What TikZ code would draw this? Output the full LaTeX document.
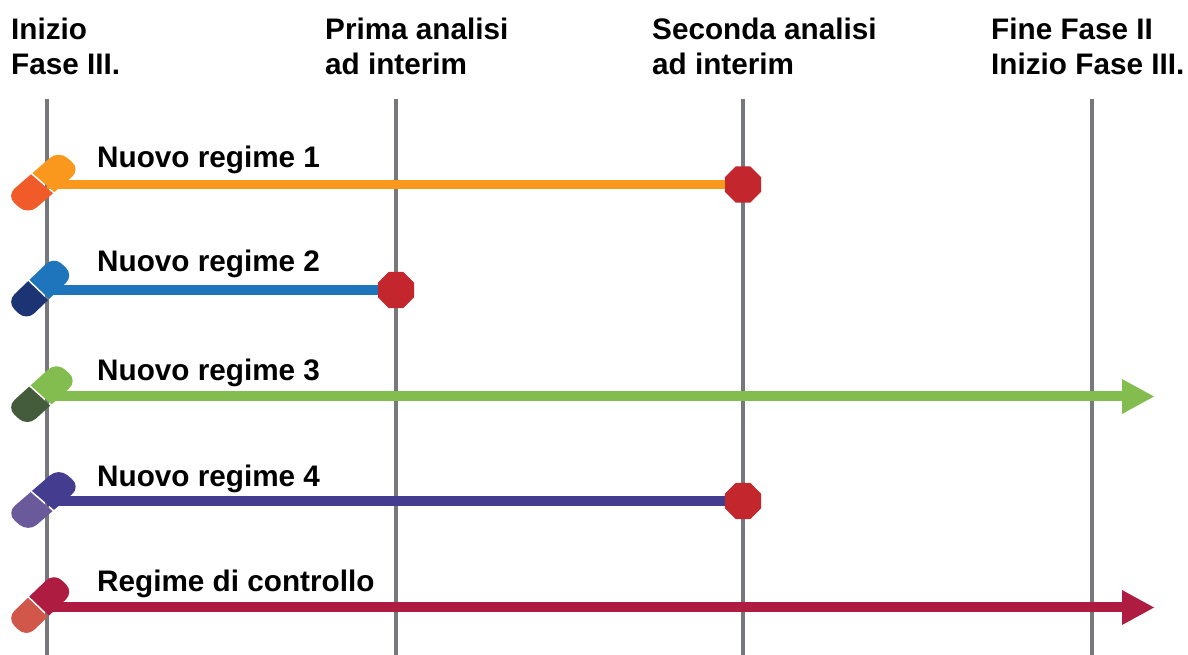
\documentclass[tikz,border=0pt]{standalone}
\usepackage{fontspec}
\setmainfont{Liberation Sans}
\usetikzlibrary{calc,shapes.geometric}
\tikzset{
  phaseline/.style={draw=linegray,line width=4.5pt},
  regline/.style={line width=9.5pt},
  lab/.style={font=\fontsize{29.7}{35.5}\selectfont\bfseries,anchor=north west,align=left,inner sep=0pt,text=black},
  reglab/.style={font=\fontsize{29.7}{30}\selectfont\bfseries,anchor=base west,inner sep=0pt,text=black},
  stopsign/.style={regular polygon,regular polygon sides=8,fill=stopred,draw=none,minimum size=39pt,inner sep=0pt,outer sep=0pt},
}
\definecolor{linegray}{HTML}{77787B}
\definecolor{stopred}{HTML}{C4262E}
\definecolor{oA}{HTML}{F9981D}\definecolor{oB}{HTML}{F15A29}
\definecolor{bA}{HTML}{1F75BC}\definecolor{bB}{HTML}{1C3473}
\definecolor{gA}{HTML}{84BD4F}\definecolor{gB}{HTML}{445C3C}
\definecolor{pA}{HTML}{443C8E}\definecolor{pB}{HTML}{6A5A9C}
\definecolor{rA}{HTML}{AF1C41}\definecolor{rB}{HTML}{D0574A}
% cx cy upper lower upperlen lowerlen xscale
\newcommand{\pill}[7]{%
  \begin{scope}[shift={(#1,#2)},xscale=#7,yscale=0.96,rotate=45]
    \fill[#3] (0.9,-14) -- (#5-11,-14) arc[start angle=90,end angle=0,radius=11pt]
      -- (#5,3) arc[start angle=0,end angle=-90,radius=11pt] -- (0.9,14) -- cycle;
    \fill[#4] (-0.9,-14) -- (-#6+11,-14) arc[start angle=90,end angle=180,radius=11pt]
      -- (-#6,3) arc[start angle=180,end angle=270,radius=11pt] -- (-0.9,14) -- cycle;
  \end{scope}}
\begin{document}
\begin{tikzpicture}[x=1pt,y=-1pt]
\useasboundingbox (0,0) rectangle (1188,655);
\coordinate (t1) at (47,99); \coordinate (b1) at (47,655);
\coordinate (t2) at (396,99); \coordinate (b2) at (396,655);
\coordinate (t3) at (743,99); \coordinate (b3) at (743,655);
\coordinate (t4) at (1092,99); \coordinate (b4) at (1092,655);
\draw[phaseline] (t1)--(b1);
\draw[phaseline] (t2)--(b2);
\draw[phaseline] (t3)--(b3);
\draw[phaseline] (t4)--(b4);
\node[lab] (h1) at (11,17.5) {Inizio\\Fase III.};
\node[lab] (h2) at (325,17.5) {Prima analisi\\ad interim};
\node[lab] (h3) at (652,17.5) {Seconda analisi\\ad interim};
\node[lab] (h4) at (991,17.5) {Fine Fase II\\Inizio Fase III.};
% regimes
\coordinate (s1) at (47,184.5);
\node[stopsign] (e1) at (743,184.5) {};
\draw[regline,oA] (s1) -- (e1);
\pill{42.7}{183.2}{oA}{oB}{34.3}{32.7}{1.11}
\node[reglab] (r1) at (97,167.5) {Nuovo regime 1};

\coordinate (s2) at (47,290);
\node[stopsign] (e2) at (396,290) {};
\draw[regline,bA] (s2) -- (e2);
\pill{38.7}{290}{bA}{bB}{35.6}{31.4}{1.0}
\node[reglab] (r2) at (97,271) {Nuovo regime 2};

\coordinate (s3) at (47,396);
\coordinate (e3) at (1122,396);
\draw[regline,gA] (s3) -- (e3);
\fill[gA] (1122,379) -- (1154,396.5) -- (1122,414) -- cycle;
\pill{40.4}{395.5}{gA}{gB}{35.5}{31.5}{1.06}
\node[reglab] (r3) at (97,380) {Nuovo regime 3};

\coordinate (s4) at (47,501);
\node[stopsign] (e4) at (743,501) {};
\draw[regline,pA] (s4) -- (e4);
\pill{42.3}{501}{pA}{pB}{35}{32}{1.11}
\node[reglab] (r4) at (97,486) {Nuovo regime 4};

\coordinate (s5) at (47,607);
\coordinate (e5) at (1122,607);
\draw[regline,rA] (s5) -- (e5);
\fill[rA] (1122,590) -- (1154,607.5) -- (1122,625) -- cycle;
\pill{38.5}{606.7}{rA}{rB}{35.9}{31.1}{1.0}
\node[reglab] (r5) at (97,591) {Regime di controllo};
\end{tikzpicture}
\end{document}
